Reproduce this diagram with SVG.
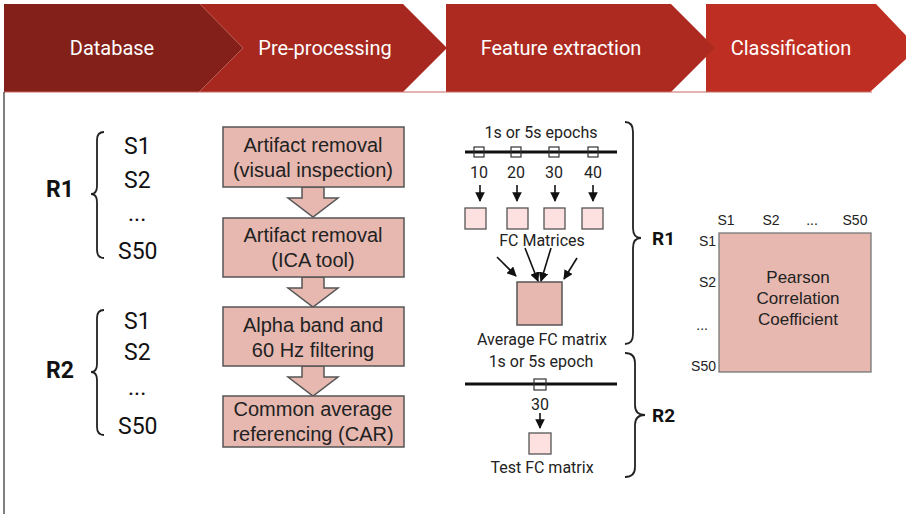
<svg xmlns="http://www.w3.org/2000/svg" width="906" height="514" viewBox="0 0 906 514">
<defs>
<style>
.hd{font-family:Roboto,"Liberation Sans",sans-serif;font-size:20px;fill:#fff;text-anchor:middle}
.lb{font-family:Roboto,"Liberation Sans",sans-serif;font-size:23px;fill:#111}
.rb{font-family:Roboto,"Liberation Sans",sans-serif;font-size:23px;font-weight:bold;fill:#111}
.bx{fill:#e6b8b0;stroke:#555;stroke-width:1.5}
.bt{font-family:"Liberation Sans",Arial,sans-serif;font-size:20px;fill:#222;text-anchor:middle}
.ft{font-family:Roboto,"Liberation Sans",sans-serif;font-size:16px;fill:#222;text-anchor:middle}
.sm{fill:#fde0e0;stroke:#555;stroke-width:1.3}
.tick{fill:none;stroke:#333;stroke-width:1.2}
.brace{fill:none;stroke:#222;stroke-width:1.8}
.ar{stroke:#111;stroke-width:1.6;fill:none;marker-end:url(#ah)}
.ct{font-family:"Liberation Sans",Arial,sans-serif;font-size:14px;fill:#222}
</style>
<marker id="ah" viewBox="0 0 10 10" refX="9" refY="5" markerWidth="6" markerHeight="6" orient="auto-start-reverse">
<path d="M0,0 L10,5 L0,10 z" fill="#111"/>
</marker>
</defs>
<rect x="0" y="0" width="906" height="514" fill="#fff"/>
<g id="header">
<polygon points="706,4 876,4 918,48 870,92 706,92" fill="#bf2e22"/>
<polygon points="446,4 671,4 715,48 671,92 446,92" fill="#ad2a21"/>
<polygon points="200,4 403,4 447,48 403,92 200,92" fill="#a6281f"/>
<polygon points="4,4 200,4 243,48 199,92 4,92" fill="#84201a"/>
<polyline points="200,4 243,48 199,92" fill="none" stroke="#c86a60" stroke-width="0.8"/>
<line x1="4" y1="92" x2="872" y2="92" stroke="#c86a60" stroke-width="1"/>
<text class="hd" x="112" y="55">Database</text>
<text class="hd" x="325" y="55">Pre-processing</text>
<text class="hd" x="561" y="55">Feature extraction</text>
<text class="hd" x="791" y="55">Classification</text>
</g>
<line x1="4" y1="92" x2="4" y2="514" stroke="#555" stroke-width="1.5"/>
<g id="database">
<g id="r1-list">
<text class="rb" x="46" y="197">R1</text>
<path class="brace" d="M104,132 Q97,132 97,140 L97,186 Q97,194 91,194 Q97,194 97,202 L97,250 Q97,258 104,258"/>
<text class="lb" x="124" y="154">S1</text>
<text class="lb" x="124" y="188">S2</text>
<text class="lb" x="128" y="221">...</text>
<text class="lb" x="118" y="259">S50</text>
</g>
<g id="r2-list">
<text class="rb" x="46" y="378">R2</text>
<path class="brace" d="M104,310 Q97,310 97,318 L97,364 Q97,372 91,372 Q97,372 97,380 L97,427 Q97,435 104,435"/>
<text class="lb" x="124" y="329">S1</text>
<text class="lb" x="124" y="360">S2</text>
<text class="lb" x="128" y="395">...</text>
<text class="lb" x="118" y="434">S50</text>
</g>
</g>
<g id="preprocessing">
<g id="arrows-pre">
<polygon class="bx" points="302,187 324,187 324,198 338,198 313,217 288,198 302,198"/>
<polygon class="bx" points="302,277 324,277 324,288 338,288 313,307 288,288 302,288"/>
<polygon class="bx" points="302,366 324,366 324,377 338,377 313,396 288,377 302,377"/>
</g>
<g id="box1"><rect class="bx" x="223" y="127" width="181" height="60"/>
<text class="bt" x="313" y="152">Artifact removal</text><text class="bt" x="313" y="177">(visual inspection)</text></g>
<g id="box2"><rect class="bx" x="223" y="218" width="181" height="59"/>
<text class="bt" x="313" y="242">Artifact removal</text><text class="bt" x="313" y="267">(ICA tool)</text></g>
<g id="box3"><rect class="bx" x="223" y="307" width="181" height="59"/>
<text class="bt" x="313" y="332">Alpha band and</text><text class="bt" x="313" y="357">60 Hz filtering</text></g>
<g id="box4"><rect class="bx" x="223" y="396" width="181" height="51"/>
<text class="bt" x="313" y="416">Common average</text><text class="bt" x="313" y="441">referencing (CAR)</text></g>
</g>
<g id="feature-r1">
<text class="ft" x="541" y="138">1s or 5s epochs</text>
<line x1="465" y1="152" x2="617" y2="152" stroke="#111" stroke-width="3"/>
<rect class="tick" x="474" y="147" width="10" height="10"/>
<rect class="tick" x="511" y="147" width="10" height="10"/>
<rect class="tick" x="549" y="147" width="10" height="10"/>
<rect class="tick" x="588" y="147" width="10" height="10"/>
<text class="ft" x="479" y="178">10</text>
<text class="ft" x="516" y="178">20</text>
<text class="ft" x="554" y="178">30</text>
<text class="ft" x="593" y="178">40</text>
<rect class="sm" x="465" y="208" width="21" height="21"/>
<rect class="sm" x="507" y="208" width="21" height="21"/>
<rect class="sm" x="544" y="208" width="21" height="21"/>
<rect class="sm" x="582" y="208" width="21" height="21"/>
<text class="ft" x="542" y="246">FC Matrices</text>
<rect class="bx" x="517" y="282" width="45" height="43"/>
<text class="ft" x="542" y="345">Average FC matrix</text>
<path class="brace" d="M625,122 Q633,122 633,132 L633,228 Q633,238 641,238 Q633,238 633,248 L633,334 Q633,344 625,344"/>
<text class="rb" x="652" y="245" style="font-size:19px">R1</text>
</g>
<g id="feature-r2">
<text class="ft" x="541" y="367">1s or 5s epoch</text>
<line x1="465" y1="384" x2="617" y2="384" stroke="#111" stroke-width="3"/>
<rect class="tick" x="534" y="379" width="12" height="11"/>
<text class="ft" x="540" y="410">30</text>
<rect class="sm" x="529" y="433" width="22" height="21"/>
<text class="ft" x="542" y="473">Test FC matrix</text>
<path class="brace" d="M625,353 Q635,353 635,363 L635,405 Q635,415 645,415 Q635,415 635,425 L635,467 Q635,477 625,477"/>
<text class="rb" x="652" y="422" style="font-size:19px">R2</text>
</g>
<g id="connectors">
<line class="ar" x1="480" y1="185" x2="480" y2="201"/>
<line class="ar" x1="517" y1="185" x2="517" y2="201"/>
<line class="ar" x1="555" y1="185" x2="555" y2="201"/>
<line class="ar" x1="593" y1="185" x2="593" y2="201"/>
<line class="ar" x1="497" y1="257" x2="516" y2="276"/>
<line class="ar" x1="525" y1="248" x2="538" y2="281"/>
<line class="ar" x1="551" y1="248" x2="541" y2="281"/>
<line class="ar" x1="577" y1="258" x2="564" y2="279"/>
<line class="ar" x1="540" y1="413" x2="540" y2="428"/>
</g>
<g id="classification">
<rect x="719" y="233" width="152" height="139" fill="#e6b8b0" stroke="#777" stroke-width="1.3"/>
<text class="ct" x="726" y="225" text-anchor="middle">S1</text>
<text class="ct" x="771" y="225" text-anchor="middle">S2</text>
<text class="ct" x="812" y="225" text-anchor="middle">...</text>
<text class="ct" x="855" y="225" text-anchor="middle">S50</text>
<text class="ct" x="716" y="246" text-anchor="end">S1</text>
<text class="ct" x="716" y="287" text-anchor="end">S2</text>
<text class="ct" x="708" y="330" text-anchor="end">...</text>
<text class="ct" x="716" y="371" text-anchor="end">S50</text>
<text class="bt" x="798" y="283" style="font-size:17px">Pearson</text>
<text class="bt" x="798" y="304" style="font-size:17px">Correlation</text>
<text class="bt" x="798" y="325" style="font-size:17px">Coefficient</text>
</g>
</svg>
